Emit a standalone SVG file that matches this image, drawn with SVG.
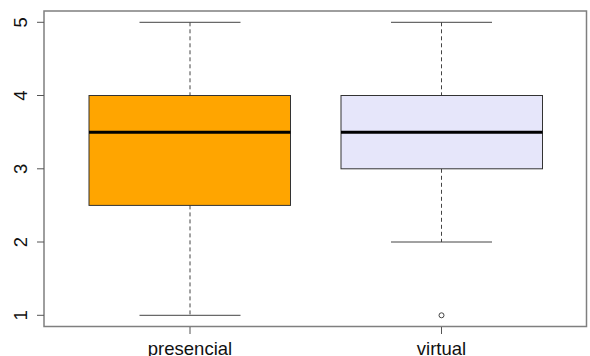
<svg xmlns="http://www.w3.org/2000/svg" width="590" height="356" viewBox="0 0 590 356">
  <style>
    .frame { fill: none; stroke: #7f7f7f; stroke-width: 1.5; }
    .tick { stroke: #555; stroke-width: 1; }
    .lbl { font-family: "Liberation Sans", Arial, sans-serif; font-size: 18.5px; fill: #111; }
    .box { stroke: #333; stroke-width: 1; }
    .median { stroke: #000; stroke-width: 3; }
    .whisker { stroke: #444; stroke-width: 1; stroke-dasharray: 4 3; fill: none; }
    .staple { stroke: #444; stroke-width: 1; }
    .outlier { fill: none; stroke: #444; stroke-width: 1; }
  </style>
  <rect width="590" height="356" fill="#fff"/>

  <!-- axes -->
  <g id="axes">
    <rect class="frame" x="44" y="11" width="542.5" height="315.5"/>
    <g class="tick">
      <line x1="37" y1="22.3" x2="44" y2="22.3"/>
      <line x1="37" y1="95.5" x2="44" y2="95.5"/>
      <line x1="37" y1="168.8" x2="44" y2="168.8"/>
      <line x1="37" y1="242" x2="44" y2="242"/>
      <line x1="37" y1="315.3" x2="44" y2="315.3"/>
      <line x1="190" y1="327" x2="190" y2="334"/>
      <line x1="441.5" y1="327" x2="441.5" y2="334"/>
    </g>
    <g class="lbl" text-anchor="middle">
      <text transform="translate(27,22.3) rotate(-90)">5</text>
      <text transform="translate(27,95.5) rotate(-90)">4</text>
      <text transform="translate(27,168.8) rotate(-90)">3</text>
      <text transform="translate(27,242) rotate(-90)">2</text>
      <text transform="translate(27,315.3) rotate(-90)">1</text>
      <text x="190" y="354.5">presencial</text>
      <text x="441.5" y="354.5">virtual</text>
    </g>
  </g>

  <!-- presencial: min 1, Q1 2.5, median 3.5, Q3 4, max 5 -->
  <g id="presencial">
    <line class="whisker" x1="190" y1="22.3" x2="190" y2="95.5"/>
    <line class="whisker" x1="190" y1="205.4" x2="190" y2="315.3"/>
    <line class="staple" x1="139.5" y1="22.3" x2="240.5" y2="22.3"/>
    <line class="staple" x1="139.5" y1="315.3" x2="240.5" y2="315.3"/>
    <rect class="box" x="89" y="95.5" width="201.5" height="109.9" fill="#FFA500"/>
    <line class="median" x1="89" y1="132.2" x2="290.5" y2="132.2"/>
  </g>

  <!-- virtual: min 2, Q1 3, median 3.5, Q3 4, max 5, outlier 1 -->
  <g id="virtual">
    <line class="whisker" x1="441.5" y1="22.3" x2="441.5" y2="95.5"/>
    <line class="whisker" x1="441.5" y1="168.8" x2="441.5" y2="242"/>
    <line class="staple" x1="391" y1="22.3" x2="492" y2="22.3"/>
    <line class="staple" x1="391" y1="242" x2="492" y2="242"/>
    <rect class="box" x="341" y="95.5" width="201.5" height="73.3" fill="#E6E6FA"/>
    <line class="median" x1="341" y1="132.2" x2="542.5" y2="132.2"/>
    <circle class="outlier" cx="441.5" cy="315.3" r="2.5"/>
  </g>
</svg>
